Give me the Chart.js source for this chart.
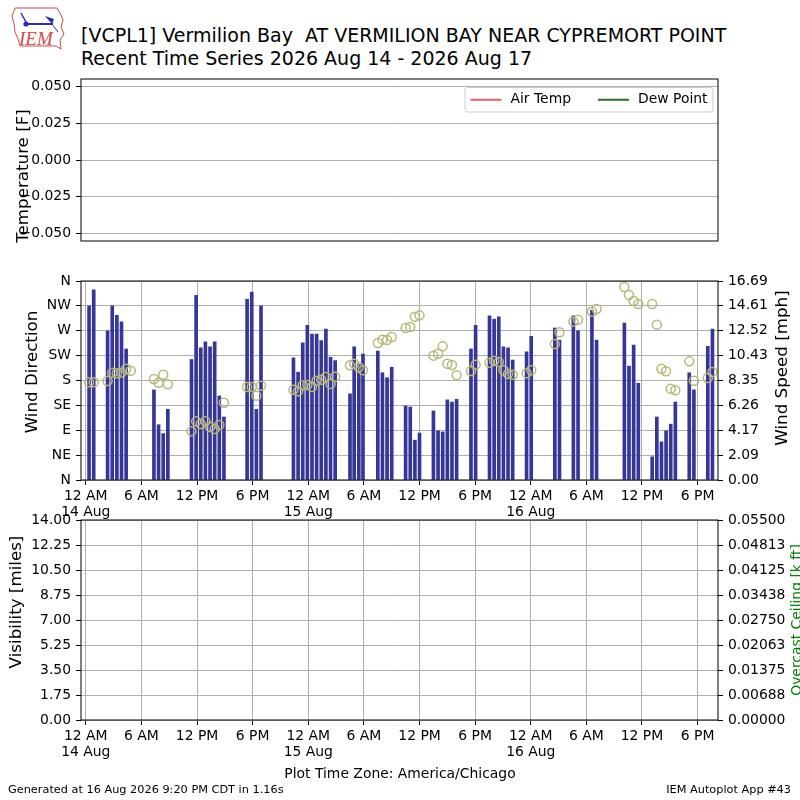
<!DOCTYPE html>
<html lang="en">
<head>
<meta charset="UTF-8">
<title>VCPL1 Recent Time Series</title>
<script src="https://cdn.jsdelivr.net/npm/chart.js@4/dist/chart.umd.min.js"></script>
<style>
    body {
        margin: 0;
        width: 800px;
        height: 800px;
        position: relative;
        overflow: hidden;
        background: #ffffff;
        font-family: 'DejaVu Sans', sans-serif;
        color: #000;
    }
    canvas { position: absolute; left: 0; }
    #tempChart { top: 60px; }
    #windChart { top: 262px; }
    #visChart { top: 505px; }
    .title {
        position: absolute;
        left: 81px;
        top: 24px;
        font-size: 19px;
        line-height: 23px;
        white-space: pre;
    }
    .tz {
        position: absolute;
        left: 0;
        width: 800px;
        top: 765px;
        text-align: center;
        font-size: 13.9px;
    }
    .foot {
        position: absolute;
        top: 783px;
        font-size: 11.3px;
    }
    #logo { position: absolute; left: 5px; top: 2px; }
</style>
</head>
<body>

<svg id="logo" width="62" height="52" viewBox="0 0 62 52">
    <path d="M10,6 L52,6 L55,11 L58,18 L56,25 L59,32 L55,38 L56,47 L51,44 L15,44 L13,37 L10,30 L9,22 L7,14 Z"
          fill="none" stroke="#d24a4a" stroke-width="1"/>
    <line x1="21" y1="22" x2="48" y2="22" stroke="#2a2ac0" stroke-width="2"/>
    <circle cx="21" cy="22" r="2.6" fill="#2a2ac0"/>
    <line x1="16" y1="11" x2="21" y2="20" stroke="#2a2ac0" stroke-width="1.5"/>
    <path d="M40,14 L49,17 L47,22 Z" fill="#2a2ac0"/>
    <line x1="47" y1="22" x2="53" y2="30" stroke="#2a2ac0" stroke-width="1"/>
    <text x="14" y="43" font-family="Liberation Serif, serif" font-style="italic" font-size="19" fill="#d24a4a">IEM</text>
</svg>

<div class="title">[VCPL1] Vermilion Bay  AT VERMILION BAY NEAR CYPREMORT POINT
Recent Time Series 2026 Aug 14 - 2026 Aug 17</div>

<canvas id="tempChart" width="800" height="200"></canvas>
<canvas id="windChart" width="800" height="272"></canvas>
<canvas id="visChart" width="800" height="295"></canvas>

<div class="tz">Plot Time Zone: America/Chicago</div>
<div class="foot" style="left:8px;">Generated at 16 Aug 2026 9:20 PM CDT in 1.16s</div>
<div class="foot" style="right:9px;">IEM Autoplot App #43</div>

<script>
// observation times, hours after 14 Aug 00:00 (local)
const obsHours = [0.35, 0.85, 2.35, 2.85, 3.35, 3.85, 4.35, 4.85,
    7.35, 7.85, 8.35, 8.85,
    11.4, 11.9, 12.4, 12.9, 13.4, 13.9, 14.4, 14.9,
    17.4, 17.9, 18.4, 18.9,
    22.4, 22.9, 23.4, 23.9, 24.4, 24.9, 25.4, 25.9, 26.4, 26.9,
    28.5, 28.95, 29.45, 29.9,
    31.5, 32, 32.5, 33,
    34.5, 35, 35.5, 36,
    37.5, 38, 38.5, 39, 39.5, 40,
    41.55, 42.05,
    43.55, 44.05, 44.55, 45.05, 45.55, 46.05,
    47.55, 48.05,
    50.6, 51.1,
    52.6, 53.1,
    54.6, 55.1,
    58.1, 58.6, 59.1, 59.6,
    61.1, 61.6, 62.1, 62.6, 63.1, 63.6,
    65.1, 65.6,
    67.1, 67.6];

// wind direction [deg], null = missing
const windDir = [315, 344, 270, 315, 298, 286, 237, null,
    163, 100, 84, 128,
    218, 334, 239, 250, 241, 250, 152, 114,
    327, 340, 128, 315,
    221, 195, 248, 280, 264, 264, 252, 273, 222, 216,
    156, 241, 209, 228,
    233, 194, 185, 204,
    134, 132, 72, 85,
    125, 89, 87, 145, 141, 146,
    237, 280,
    297, 291, 295, 241, 239, 217,
    232, 260,
    275, 253,
    297, 270,
    307, 253,
    284, 206, 244, 175,
    42, 114, 69, 89, 101, 141,
    194, 163,
    242, 273];

// wind speed [mph]
const windSpeed = [8.2, 8.2, 8.3, 9.0, 8.95, 9.0, 9.33, 9.17,
    8.47, 8.16, 8.83, 8.03,
    4.08, 4.92, 4.7, 4.92, 4.44, 4.28, 4.61, 6.48,
    7.8, 7.8, 7.07, 7.91,
    7.57, 7.44, 7.94, 7.97, 7.8, 8.33, 8.41, 8.64, 8.05, 8.66,
    9.62, 9.75, 9.45, 9.2,
    11.49, 11.77, 11.74, 11.99,
    12.75, 12.83, 13.7, 13.81,
    10.43, 10.59, 11.21, 9.75, 9.64, 8.78,
    9.14, 9.67,
    9.84, 10.0, 9.9, 9.2, 8.89, 8.83,
    8.95, 9.2,
    11.41, 12.39,
    13.28, 13.44,
    14.11, 14.34,
    16.19, 15.52, 15.01, 14.76,
    14.76, 13.03, 9.33, 9.12, 7.66, 7.52,
    9.95, 8.33,
    8.55, 9.06];

// time axis ticks
const tickHours = [0, 6, 12, 18, 24, 30, 36, 42, 48, 54, 60, 66];
const tickLabels = [['12 AM', '14 Aug'], '6 AM', '12 PM', '6 PM',
    ['12 AM', '15 Aug'], '6 AM', '12 PM', '6 PM',
    ['12 AM', '16 Aug'], '6 AM', '12 PM', '6 PM'];

// y axis ticks
const tempTicks = [-0.05, -0.025, 0, 0.025, 0.05];
const tempTickLabels = ['\u22120.050', '\u22120.025', '0.000', '0.025', '0.050'];
const dirTicks = [0, 45, 90, 135, 180, 225, 270, 315, 360];
const dirTickLabels = ['N', 'NE', 'E', 'SE', 'S', 'SW', 'W', 'NW', 'N'];
const speedTicks = [0, 2.09, 4.17, 6.26, 8.35, 10.43, 12.52, 14.61, 16.69];
const speedTickLabels = ['0.00', '2.09', '4.17', '6.26', '8.35', '10.43', '12.52', '14.61', '16.69'];
const visTicks = [0, 1.75, 3.5, 5.25, 7, 8.75, 10.5, 12.25, 14];
const visTickLabels = ['0.00', '1.75', '3.50', '5.25', '7.00', '8.75', '10.50', '12.25', '14.00'];
const ceilTicks = [0, 0.006875, 0.01375, 0.020625, 0.0275, 0.034375, 0.04125, 0.048125, 0.055];
const ceilTickLabels = ['0.00000', '0.00688', '0.01375', '0.02063', '0.02750', '0.03438', '0.04125', '0.04813', '0.05500'];

const hourMin = -0.52, hourMax = 68.2;

Chart.defaults.font.family = "'DejaVu Sans', sans-serif";
Chart.defaults.font.size = 13.9;
Chart.defaults.color = '#000';
Chart.defaults.animation = false;

const gridOpts = { color: '#b0b0b0', lineWidth: 1, tickColor: '#000', tickLength: 5, tickWidth: 1 };
const sideGrid = { drawOnChartArea: false, tickColor: '#000', tickLength: 5, tickWidth: 1 };

function fixTicks(values) {
    return scale => { scale.ticks = values.map(v => ({ value: v })); };
}
function fixWidth(w) {
    return scale => { scale.width = w; };
}

// black box round the plot area
const frame = {
    id: 'frame',
    afterDraw(chart) {
        const { ctx, chartArea: a } = chart;
        ctx.save();
        ctx.strokeStyle = '#000';
        ctx.lineWidth = 1;
        ctx.strokeRect(a.left, a.top, a.right - a.left, a.bottom - a.top);
        ctx.restore();
    }
};

// rotated axis labels, reading bottom to top; y given in page pixels
function axisLabels(list) {
    return {
        id: 'axisLabels',
        afterDraw(chart) {
            const ctx = chart.ctx;
            const off = chart.canvas.offsetTop;
            list.forEach(l => {
                ctx.save();
                ctx.font = (l.size || 16.7) + "px 'DejaVu Sans'";
                ctx.fillStyle = l.color || '#000';
                ctx.textAlign = 'center';
                ctx.textBaseline = 'middle';
                ctx.translate(l.x, l.y - off);
                ctx.rotate(-Math.PI / 2);
                ctx.fillText(l.text, 0, 0);
                ctx.restore();
            });
        }
    };
}

// legend inside the top-right corner of the plot area
const boxLegend = {
    id: 'boxLegend',
    afterDraw(chart) {
        const { ctx, chartArea } = chart;
        const items = chart.data.datasets;
        const lineLen = 31, gapText = 9, gapItem = 27, pad = 5.5, h = 24.5;
        ctx.save();
        ctx.font = "13.9px 'DejaVu Sans'";
        let w = pad * 2;
        items.forEach((d, i) => {
            w += lineLen + gapText + ctx.measureText(d.label).width + (i ? gapItem : 0);
        });
        const x0 = chartArea.right - 5 - w, y0 = chartArea.top + 8.5;
        ctx.fillStyle = 'rgba(255,255,255,0.8)';
        ctx.strokeStyle = '#cccccc';
        ctx.lineWidth = 1;
        ctx.beginPath();
        ctx.roundRect(x0, y0, w, h, 2.5);
        ctx.fill();
        ctx.stroke();
        let x = x0 + pad;
        const cy = y0 + h / 2;
        items.forEach((d, i) => {
            if (i) x += gapItem;
            ctx.strokeStyle = d.borderColor;
            ctx.lineWidth = 2;
            ctx.beginPath();
            ctx.moveTo(x, cy);
            ctx.lineTo(x + lineLen, cy);
            ctx.stroke();
            x += lineLen + gapText;
            ctx.fillStyle = '#000';
            ctx.textBaseline = 'middle';
            ctx.fillText(d.label, x, cy);
            x += ctx.measureText(d.label).width;
        });
        ctx.restore();
    }
};

function timeAxis() {
    return {
        type: 'linear',
        min: hourMin,
        max: hourMax,
        offset: false,
        afterBuildTicks: fixTicks(tickHours),
        afterFit: s => { s.height = 40; },
        ticks: {
            autoSkip: false,
            maxRotation: 0,
            padding: 4,
            font: { lineHeight: 1.12 },
            callback: (v, i) => tickLabels[i]
        },
        grid: { ...gridOpts, offset: false },
        border: { display: false }
    };
}

function valueAxis(position, min, max, ticks, labels, width, grid) {
    return {
        position: position,
        min: min,
        max: max,
        afterBuildTicks: fixTicks(ticks),
        afterFit: fixWidth(width),
        ticks: { padding: 5, callback: (v, i) => labels[i] },
        grid: grid,
        border: { display: false }
    };
}

// temperature panel (no data in period)
new Chart(document.getElementById('tempChart'), {
    type: 'line',
    data: {
        datasets: [
            { label: 'Air Temp', data: [], borderColor: '#e06060', borderWidth: 2 },
            { label: 'Dew Point', data: [], borderColor: '#2e6a2e', borderWidth: 2 }
        ]
    },
    options: {
        responsive: false,
        events: [],
        layout: { padding: { top: 19, bottom: 19, left: 0, right: 82 } },
        plugins: { legend: { display: false }, tooltip: { enabled: false } },
        scales: {
            x: { type: 'linear', display: false, min: hourMin, max: hourMax },
            y: valueAxis('left', -0.055, 0.055, tempTicks, tempTickLabels, 81, gridOpts)
        }
    },
    plugins: [frame, boxLegend, axisLabels([{ text: 'Temperature [F]', x: 24, y: 176 }])]
});

// wind panel
new Chart(document.getElementById('windChart'), {
    type: 'bar',
    data: {
        datasets: [
            {
                type: 'scatter',
                label: 'Wind Speed',
                data: obsHours.map((h, i) => ({ x: h, y: windSpeed[i] })),
                yAxisID: 'y1',
                pointStyle: 'circle',
                pointRadius: 4.5,
                pointBorderWidth: 1.5,
                borderColor: '#b8b878',
                backgroundColor: 'rgba(0,0,0,0)',
                order: 1
            },
            {
                type: 'bar',
                label: 'Wind Direction',
                data: obsHours.map((h, i) => ({ x: h, y: windDir[i] })).filter(p => p.y !== null),
                yAxisID: 'y',
                backgroundColor: '#363699',
                barThickness: 3,
                order: 2
            }
        ]
    },
    options: {
        responsive: false,
        events: [],
        layout: { padding: { top: 19, bottom: 14, left: 0, right: 0 } },
        plugins: { legend: { display: false }, tooltip: { enabled: false } },
        scales: {
            x: timeAxis(),
            y: valueAxis('left', 0, 360, dirTicks, dirTickLabels, 81, gridOpts),
            y1: valueAxis('right', 0, 16.69, speedTicks, speedTickLabels, 82, sideGrid)
        }
    },
    plugins: [frame, axisLabels([
        { text: 'Wind Direction', x: 33, y: 372 },
        { text: 'Wind Speed [mph]', x: 783, y: 368 }
    ])]
});

// visibility / ceiling panel (no data in period)
new Chart(document.getElementById('visChart'), {
    type: 'line',
    data: { datasets: [] },
    options: {
        responsive: false,
        events: [],
        layout: { padding: { top: 15, bottom: 40, left: 0, right: 0 } },
        plugins: { legend: { display: false }, tooltip: { enabled: false } },
        scales: {
            x: timeAxis(),
            y: valueAxis('left', 0, 14, visTicks, visTickLabels, 81, gridOpts),
            y1: valueAxis('right', 0, 0.055, ceilTicks, ceilTickLabels, 82, sideGrid)
        }
    },
    plugins: [frame, axisLabels([
        { text: 'Visibility [miles]', x: 17, y: 602 },
        { text: 'Overcast Ceiling [k ft]', x: 797, y: 620, size: 13.9, color: '#008000' }
    ])]
});
</script>
</body>
</html>
